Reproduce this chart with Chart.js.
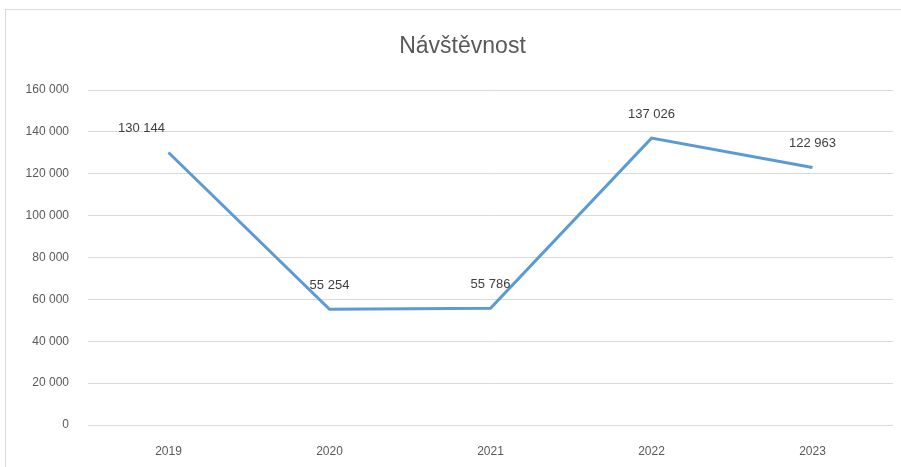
<!DOCTYPE html>
<html>
<head>
<meta charset="utf-8">
<script src="https://cdn.jsdelivr.net/npm/chart.js@4"></script>
<style>
  html, body { margin: 0; padding: 0; background: #fff; }
  #wrap { position: relative; width: 901px; height: 467px; overflow: hidden; }
  #frame { position: absolute; left: 5px; top: 9px; width: 920px; height: 480px; border: 1px solid #d9d9d9; box-sizing: border-box; }
  canvas { position: absolute; left: 0; top: 0; }
</style>
</head>
<body>
<div id="wrap">
  <div id="frame"></div>
  <canvas id="chart" width="901" height="467"></canvas>
</div>
<script>
const years = ['2019', '2020', '2021', '2022', '2023'];
const visits = [130144, 55254, 55786, 137026, 122963];
const yTicks = [0, 20000, 40000, 60000, 80000, 100000, 120000, 140000, 160000];
const chartTitle = 'Návštěvnost';

const FONT = '"Liberation Sans Narrow", "Liberation Sans", sans-serif';

function fmt(n) {
  return String(n).replace(/\B(?=(\d{3})+(?!\d))/g, ' ');
}

// labels above each point, plus the title (centred a bit right of the canvas middle)
const valueLabels = {
  id: 'valueLabels',
  afterDatasetsDraw(chart) {
    const ctx = chart.ctx;
    const meta = chart.getDatasetMeta(0);
    ctx.save();
    ctx.fillStyle = '#404040';
    ctx.textAlign = 'center';
    ctx.textBaseline = 'middle';
    ctx.font = '13px ' + FONT;
    meta.data.forEach(function (pt, i) {
      const dx = i === 0 ? -27 : 0;
      ctx.fillText(fmt(visits[i]), pt.x + dx, pt.y - 24);
    });
    ctx.fillStyle = '#595959';
    ctx.font = '23px ' + FONT;
    ctx.fillText(chartTitle, (chart.width + 24) / 2, 47);
    ctx.restore();
  }
};

const chart = new Chart(document.getElementById('chart').getContext('2d'), {
  type: 'line',
  data: {
    labels: years,
    datasets: [{
      label: chartTitle,
      data: visits,
      borderColor: '#5b9bd5',
      borderWidth: 3,
      pointRadius: 0,
      fill: false,
      tension: 0
    }]
  },
  options: {
    responsive: false,
    animation: false,
    layout: { padding: { left: 0, right: 8, top: 90, bottom: 0 } },
    plugins: {
      legend: { display: false },
      tooltip: { enabled: false },
      title: { display: false }
    },
    scales: {
      x: {
        offset: true,
        grid: { display: false },
        border: { display: false },
        ticks: {
          color: '#595959',
          font: { family: FONT, size: 12 },
          padding: 11
        },
        afterFit: function (scale) { scale.height = 42; }
      },
      y: {
        min: 0,
        max: 160000,
        afterBuildTicks: function (scale) { scale.ticks = yTicks.map(v => ({ value: v })); },
        grid: { color: '#d9d9d9', lineWidth: 1, drawTicks: false },
        border: { display: false },
        ticks: {
          color: '#595959',
          font: { family: FONT, size: 12 },
          padding: 19,
          callback: function (v) { return fmt(v); }
        },
        afterFit: function (scale) { scale.width = 88; }
      }
    }
  },
  plugins: [valueLabels]
});
</script>
</body>
</html>
